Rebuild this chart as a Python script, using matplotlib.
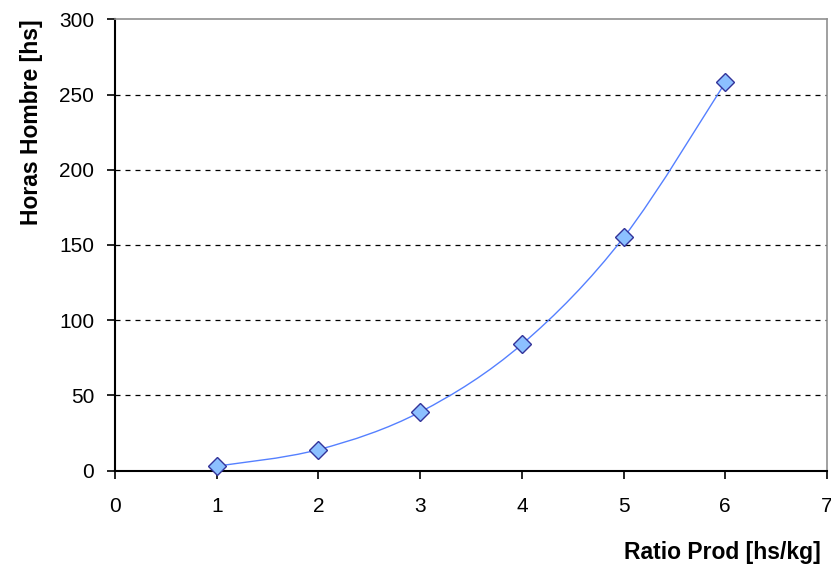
import matplotlib.pyplot as plt
from matplotlib.path import Path
from matplotlib.patches import PathPatch

plt.rcParams['font.family'] = ['Liberation Sans', 'DejaVu Sans']

ratio_prod = [1, 2, 3, 4, 5, 6]
horas_hombre = [3, 14, 39, 84, 155, 258]
x_ticks = [0, 1, 2, 3, 4, 5, 6, 7]
y_ticks = [0, 50, 100, 150, 200, 250, 300]


def smooth_path(xs, ys, k=1 / 6):
    # curva suavizada tipo Excel (Catmull-Rom en Bezier cubicas)
    verts = [(xs[0], ys[0])]
    codes = [Path.MOVETO]
    n = len(xs)
    for i in range(n - 1):
        x0, y0 = (xs[i - 1], ys[i - 1]) if i > 0 else (xs[i], ys[i])
        x1, y1 = xs[i], ys[i]
        x2, y2 = xs[i + 1], ys[i + 1]
        x3, y3 = (xs[i + 2], ys[i + 2]) if i + 2 < n else (x2, y2)
        c1 = (x1 + (x2 - x0) * k, y1 + (y2 - y0) * k)
        c2 = (x2 - (x3 - x1) * k, y2 - (y3 - y1) * k)
        verts += [c1, c2, (x2, y2)]
        codes += [Path.CURVE4] * 3
    return Path(verts, codes)


fig = plt.figure(figsize=(8.31, 5.66), dpi=100)
ax = fig.add_axes([0.1384, 0.1684, 0.8568, 0.7975])

ax.add_patch(PathPatch(smooth_path(ratio_prod, horas_hombre), facecolor='none',
                       edgecolor='#5580FF', lw=1.0, zorder=3))
ax.plot(ratio_prod, horas_hombre, linestyle='none', marker='D', markersize=9,
        markerfacecolor='#8CC0FF', markeredgecolor='#333399', markeredgewidth=1,
        zorder=4, clip_on=False)

ax.set_xlim(0, 7)
ax.set_ylim(0, 300)
ax.set_xticks(x_ticks)
ax.set_yticks(y_ticks)
ax.tick_params(axis='both', labelsize=15, direction='out', length=6, width=1.2, color='black')
ax.tick_params(axis='y', pad=9)
ax.tick_params(axis='x', pad=13)

for v in y_ticks[1:-1]:
    ax.axhline(v, color='black', lw=0.9, linestyle=(0, (4, 4)), zorder=1)

ax.spines['left'].set_linewidth(1.5)
ax.spines['bottom'].set_linewidth(1.5)
ax.spines['left'].set_color('black')
ax.spines['bottom'].set_color('black')
ax.spines['top'].set_color('#909090')
ax.spines['right'].set_color('#909090')
ax.spines['top'].set_linewidth(1.2)
ax.spines['right'].set_linewidth(1.2)

fig.text(0.988, 1 - 552 / 566, 'Ratio Prod [hs/kg]', ha='right', va='center',
         fontsize=16.5, fontweight='bold')
fig.text(32 / 831, 1 - 19 / 566, 'Horas Hombre [hs]', ha='center', va='top',
         rotation=90, fontsize=16.5, fontweight='bold')

fig.savefig('out.png', dpi=100)
